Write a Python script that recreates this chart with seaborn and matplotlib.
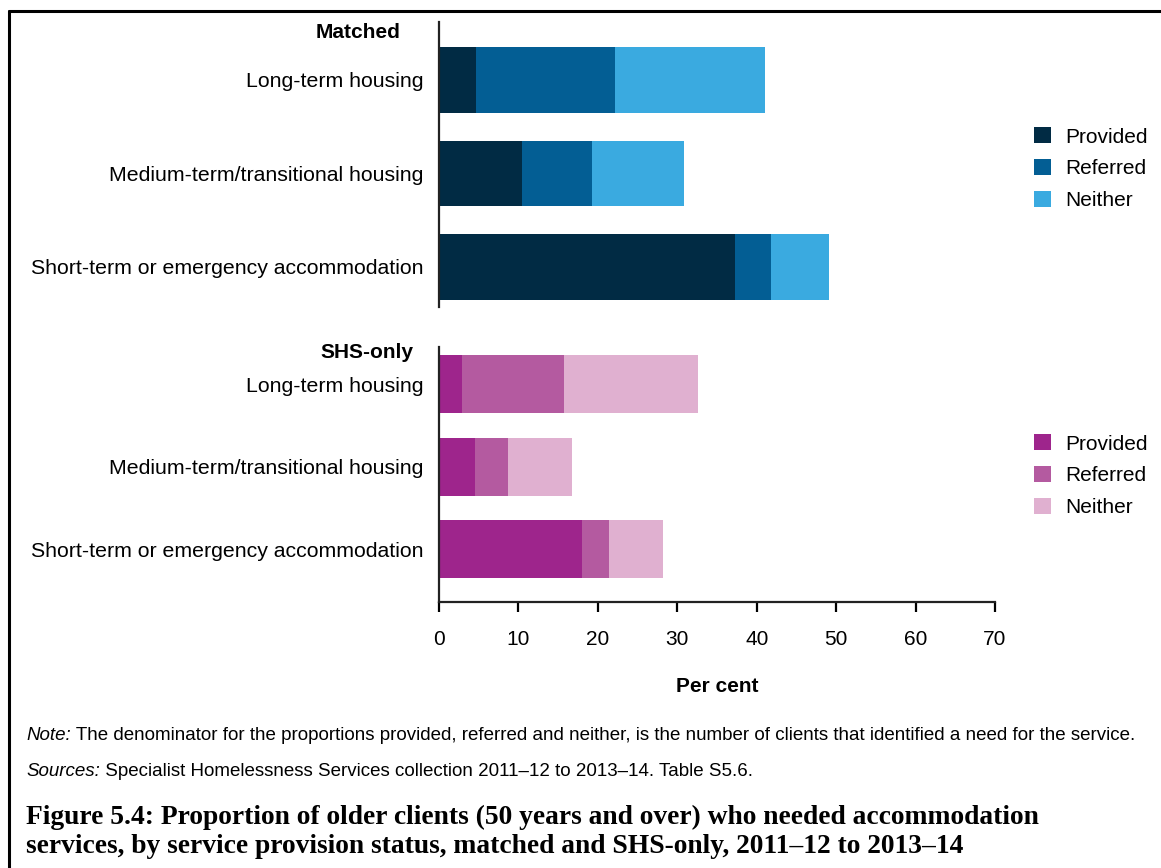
import numpy as np
import pandas as pd
import matplotlib
matplotlib.use("Agg")
import matplotlib.pyplot as plt
from matplotlib.patches import Patch
from matplotlib.lines import Line2D
import seaborn as sns

# Data (per cent of clients)
categories = ["Long-term housing",
              "Medium-term/transitional housing",
              "Short-term or emergency accommodation"]
statuses = ["Provided", "Referred", "Neither"]

matched_provided = [4.7, 10.5, 37.3]
matched_referred = [17.5, 8.8, 4.5]
matched_neither = [18.9, 11.6, 7.3]

shs_provided = [2.9, 4.5, 18.0]
shs_referred = [12.8, 4.2, 3.4]
shs_neither = [16.9, 8.1, 6.8]

matched_colors = ["#012B44", "#035E94", "#3AAAE0"]
shs_colors = ["#9E258C", "#B45AA0", "#E0B0D0"]

sns.set_style("white")
plt.rcParams["font.family"] = ["Liberation Sans", "DejaVu Sans"]
plt.rcParams["text.color"] = "black"
plt.rcParams["xtick.color"] = "black"
plt.rcParams["ytick.color"] = "black"
plt.rcParams["axes.labelcolor"] = "black"

W, H = 1161, 868
fig = plt.figure(figsize=(W / 100, H / 100), dpi=100)


def px_axes(top, bottom):
    left, right = 439, 995
    return fig.add_axes([left / W, 1 - bottom / H, (right - left) / W, (bottom - top) / H])


def stacked(ax, provided, referred, neither, colors, ylim):
    df = pd.DataFrame({"category": categories,
                       "Provided": provided,
                       "Referred": referred,
                       "Neither": neither})
    # draw cumulative totals from the outside in so the layers stack
    df["c_neither"] = df[statuses].sum(axis=1)
    df["c_referred"] = df["Provided"] + df["Referred"]
    df["c_provided"] = df["Provided"]
    for col, color in zip(["c_neither", "c_referred", "c_provided"], colors[::-1]):
        sns.barplot(data=df, y="category", x=col, order=categories, orient="h",
                    color=color, width=0.7, saturation=1, linewidth=0, ax=ax)
    ax.set_ylim(*ylim)
    ax.set_xlim(0, 70)
    ax.set_ylabel("")
    ax.set_xlabel("")
    ax.tick_params(axis="y", length=0, pad=11, labelsize=15.3)
    for s in ["top", "right"]:
        ax.spines[s].set_visible(False)
    ax.spines["left"].set_linewidth(1.6)
    ax.spines["left"].set_color("#222222")


ax1 = px_axes(22, 307)
stacked(ax1, matched_provided, matched_referred, matched_neither, matched_colors, (2.43, -0.62))
ax1.spines["bottom"].set_visible(False)
ax1.set_xticks([])

ax2 = px_axes(347, 602)
stacked(ax2, shs_provided, shs_referred, shs_neither, shs_colors, (2.64, -0.45))
ax2.spines["bottom"].set_linewidth(1.6)
ax2.spines["bottom"].set_color("#222222")
ax2.set_xticks(range(0, 71, 10))
ax2.tick_params(axis="x", direction="out", length=7, width=1.6, pad=13, labelsize=15, bottom=True)
ax2.set_xlabel("Per cent", fontsize=15, fontweight="bold", labelpad=20)

# group headings
fig.text(400 / W, 1 - 33 / H, "Matched", ha="right", va="center", fontsize=15, fontweight="bold")
fig.text(413 / W, 1 - 352 / H, "SHS-only", ha="right", va="center", fontsize=15, fontweight="bold")

# legends
for colors, y_top in [(matched_colors, 119), (shs_colors, 426)]:
    handles = [Patch(facecolor=c, edgecolor="none") for c in colors]
    fig.legend(handles, statuses, loc="upper left", bbox_to_anchor=(1026 / W, 1 - y_top / H),
               frameon=False, fontsize=15, handlelength=0.8, handleheight=0.8,
               handletextpad=0.7, labelspacing=0.6, borderaxespad=0)

# notes: italic lead-in followed by plain text
renderer = fig.canvas.get_renderer()
for y, lead, rest in [(735, "Note:", " The denominator for the proportions provided, referred and neither, "
                                     "is the number of clients that identified a need for the service."),
                      (772, "Sources:", " Specialist Homelessness Services collection 2011\u201312 to "
                                        "2013\u201314. Table S5.6.")]:
    t = fig.text(26 / W, 1 - y / H, lead, ha="left", va="center", fontsize=13.5, style="italic")
    bb = t.get_window_extent(renderer)
    fig.text(bb.x1 / W, 1 - y / H, rest, ha="left", va="center", fontsize=13.5)

fig.text(26 / W, 1 - 832 / H,
         "Figure 5.4: Proportion of older clients (50 years and over) who needed accommodation\n"
         "services, by service provision status, matched and SHS-only, 2011\u201312 to 2013\u201314",
         ha="left", va="center", fontsize=19.8, fontweight="bold",
         family=["Liberation Serif", "DejaVu Serif"], linespacing=1.25)

# frame around the figure (top and left edges visible)
fig.add_artist(Line2D([9 / W, 9 / W], [0, 1 - 11 / H], color="black", lw=2.2, transform=fig.transFigure))
fig.add_artist(Line2D([9 / W, 1], [1 - 11 / H, 1 - 11 / H], color="black", lw=2.2, transform=fig.transFigure))

fig.savefig("out.png", dpi=100)
